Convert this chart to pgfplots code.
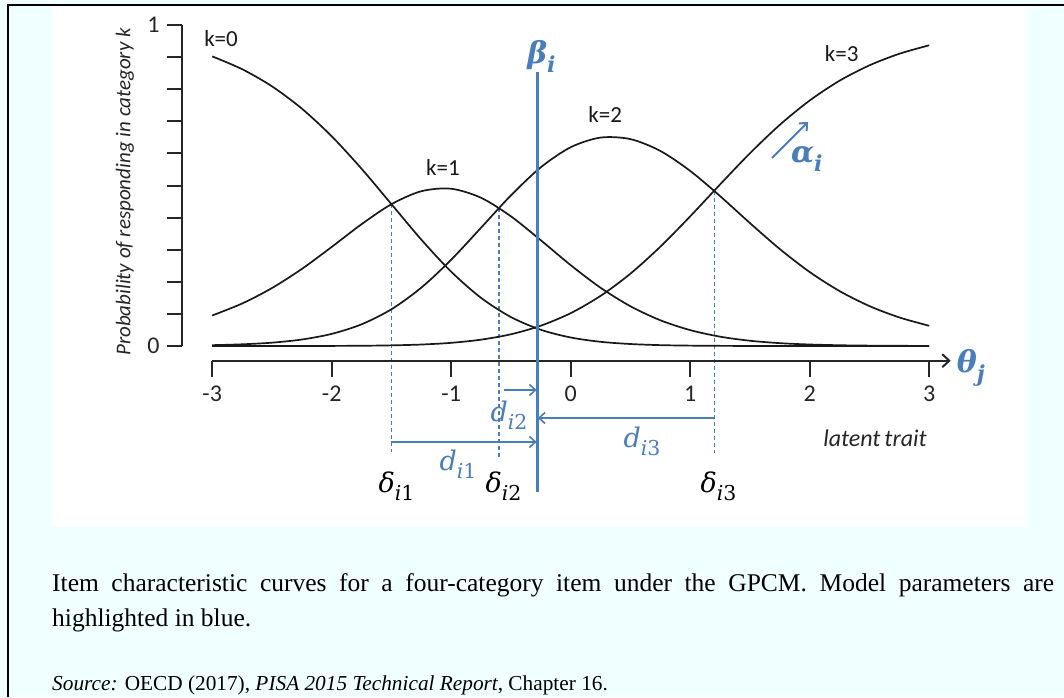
\RequirePackage{fix-cm}
\documentclass[border=0pt]{standalone}
\usepackage{pgfplots}
\pgfplotsset{compat=1.18}
\usepackage{pgfplotstable}
\usepackage{fontspec}
\setmainfont{Liberation Serif}
\newfontfamily\calib{Carlito}
\newfontfamily\dvs{DejaVu Serif}
\usetikzlibrary{arrows.meta}
\definecolor{pblue}{RGB}{74,126,187}
\definecolor{bgcyan}{RGB}{240,255,255}
\newcommand{\sub}[1]{\raisebox{-0.30em}{\fontsize{20.5}{22}\selectfont #1}}
\newcommand{\bsub}[1]{\raisebox{-0.30em}{\fontsize{22}{24}\selectfont #1}}

\tikzset{
  curve/.style={black!90, line width=1.7pt, smooth},
  axisline/.style={black!85, line width=2pt},
  ticklab/.style={font={\fontsize{24}{26}\selectfont\calib}, inner sep=0pt, text=black!85},
  klab/.style={font={\fontsize{23}{25}\selectfont\calib}, inner sep=0pt, text=black!90},
  dsh/.style={pblue, line width=1.2pt, dash pattern=on 4pt off 3pt},
  darr/.style={pblue, line width=1.6pt, -{Straight Barb[length=6pt,width=11pt]}},
  mlab/.style={font={\fontsize{27}{30}\selectfont\dvs\itshape}, inner sep=0pt},
  blab/.style={font={\fontsize{30}{32}\selectfont\dvs\bfseries\itshape}, inner sep=0pt, text=pblue},
}

\pgfplotstableread{
t p0 p1 p2 p3
-3 0.9023 0.0951 0.0026 0.0000
-2.75 0.8624 0.1323 0.0053 0.0000
-2.5 0.8090 0.1805 0.0104 0.0000
-2.25 0.7395 0.2401 0.0202 0.0001
-2 0.6533 0.3086 0.0378 0.0003
-1.75 0.5521 0.3795 0.0676 0.0008
-1.5 0.4418 0.4418 0.1145 0.0020
-1.25 0.3314 0.4822 0.1819 0.0046
-1 0.2314 0.4899 0.2688 0.0099
-0.75 0.1499 0.4617 0.3687 0.0198
-0.5 0.0901 0.4039 0.4693 0.0366
-0.25 0.0505 0.3294 0.5568 0.0633
0 0.0265 0.2518 0.6193 0.1024
0.25 0.0131 0.1814 0.6493 0.1562
0.5 0.0062 0.1238 0.6445 0.2255
0.75 0.0027 0.0802 0.6077 0.3094
1 0.0012 0.0495 0.5454 0.4040
1.25 0.0005 0.0291 0.4670 0.5034
1.5 0.0002 0.0164 0.3829 0.6005
1.75 0.0001 0.0089 0.3020 0.6891
2 0.0000 0.0047 0.2304 0.7649
2.25 0.0000 0.0024 0.1711 0.8265
2.5 0.0000 0.0012 0.1244 0.8744
2.75 0.0000 0.0006 0.0890 0.9104
3 0.0000 0.0003 0.0630 0.9368
}\ICC

\begin{document}
\begin{tikzpicture}
\path[use as bounding box] (0pt,0pt) rectangle (1064pt,-697pt);
\fill[bgcyan] (0pt,0pt) rectangle (1064pt,-697pt);
\fill[white] (52pt,-6.5pt) rectangle (1027pt,-527pt);
\draw[black, line width=2.2pt] (8.3pt,-697pt) -- (8.3pt,-5.3pt) -- (1064pt,-5.3pt);

\begin{axis}[at={(140.5pt,-506.5pt)}, anchor=south west, x=119.5pt, y=321pt,
  xmin=-3.6, xmax=3.6, ymin=-0.5, ymax=1.05, hide axis, clip=false]
% dashed delta guides
\draw[dsh] (axis cs:-1.5,0.4418) -- (axis cs:-1.5,-0.330);
\draw[dsh] (axis cs:-0.6,0.4300) -- (axis cs:-0.6,-0.346);
\draw[dsh] (axis cs:1.2,0.4835) -- (axis cs:1.2,-0.333);

\addplot[curve, no marks] table[x=t,y=p0] {\ICC};
\addplot[curve, no marks] table[x=t,y=p1] {\ICC};
\addplot[curve, no marks] table[x=t,y=p2] {\ICC};
\addplot[curve, no marks] table[x=t,y=p3] {\ICC};

% y axis
\draw[axisline] (axis cs:-3.249,0) -- (axis cs:-3.249,1);
\pgfplotsinvokeforeach{0,0.1,0.2,0.3,0.4,0.5,0.6,0.7,0.8,0.9,1}{
  \draw[axisline] (axis cs:-3.376,#1) -- (axis cs:-3.249,#1);
}
\node[ticklab, anchor=east] at (axis cs:-3.44,0) {0};
\node[ticklab, anchor=east] at (axis cs:-3.44,1) {1};
\node[font={\fontsize{21}{24}\selectfont\calib\itshape}, rotate=90, text=black!85] at (axis cs:-3.73,0.48) {Probability of responding in category k};

% x axis
\draw[axisline, -{Straight Barb[length=7pt,width=13pt]}] (axis cs:-3,-0.0458) -- (axis cs:3.18,-0.0458);
\pgfplotsinvokeforeach{-3,-2,-1,0,1,2,3}{
  \draw[axisline] (axis cs:#1,-0.0458) -- (axis cs:#1,-0.0956);
  \node[ticklab] at (axis cs:#1,-0.1495) {#1};
}
\node[font={\fontsize{24}{26}\selectfont\calib\itshape}, text=black!85, inner sep=0pt] at (axis cs:2.546,-0.2866) {latent\,trait};
\node[blab, anchor=west] at (axis cs:3.23,-0.068) {θ\bsub{j}};

% category labels
\node[klab] at (axis cs:-2.926,0.958) {k=0};
\node[klab] at (axis cs:-1.069,0.5545) {k=1};
\node[klab] at (axis cs:0.288,0.7196) {k=2};
\node[klab] at (axis cs:2.267,0.911) {k=3};

% beta line
\draw[pblue, line width=3pt] (axis cs:-0.28,0.8536) -- (axis cs:-0.28,-0.4548);
\node[blab] at (axis cs:-0.245,0.902) {β\bsub{i}};

% alpha
\draw[pblue, line width=2pt, -{Straight Barb[length=6pt,width=11pt]}] (axis cs:1.6845,0.5857) -- (axis cs:1.986,0.6978);
\node[blab] at (axis cs:1.975,0.582) {α\bsub{i}};

% distances
\draw[darr] (axis cs:-0.558,-0.137) -- (axis cs:-0.285,-0.137);
\draw[darr] (axis cs:1.2,-0.2243) -- (axis cs:-0.275,-0.2243);
\draw[darr] (axis cs:-1.5,-0.299) -- (axis cs:-0.285,-0.299);
\node[mlab, text=pblue] at (axis cs:-0.516,-0.215) {d\sub{i\upshape 2}};
\node[mlab, text=pblue] at (axis cs:0.597,-0.296) {d\sub{i\upshape 3}};
\node[mlab, text=pblue] at (axis cs:-0.943,-0.368) {d\sub{i\upshape 1}};
\node[mlab] at (axis cs:-1.458,-0.438) {δ\sub{i\upshape 1}};
\node[mlab] at (axis cs:-0.5623,-0.438) {δ\sub{i\upshape 2}};
\node[mlab] at (axis cs:1.237,-0.438) {δ\sub{i\upshape 3}};
\end{axis}

% caption
\node[anchor=base west, inner sep=0pt, font={\fontsize{25.5}{35}\selectfont}] at (52pt,-591.7pt)
  {\makebox[1002pt][s]{Item characteristic curves for a four-category item under the GPCM. Model parameters are}};
\node[anchor=base west, inner sep=0pt, font={\fontsize{25.5}{35}\selectfont}] at (52pt,-626.7pt)
  {highlighted in blue.};
\node[anchor=base west, inner sep=0pt, font={\fontsize{21.3}{25}\selectfont}] at (52pt,-690.7pt)
  {\textit{Source:} OECD (2017), \textit{PISA 2015 Technical Report}, Chapter 16.};
\end{tikzpicture}
\end{document}
